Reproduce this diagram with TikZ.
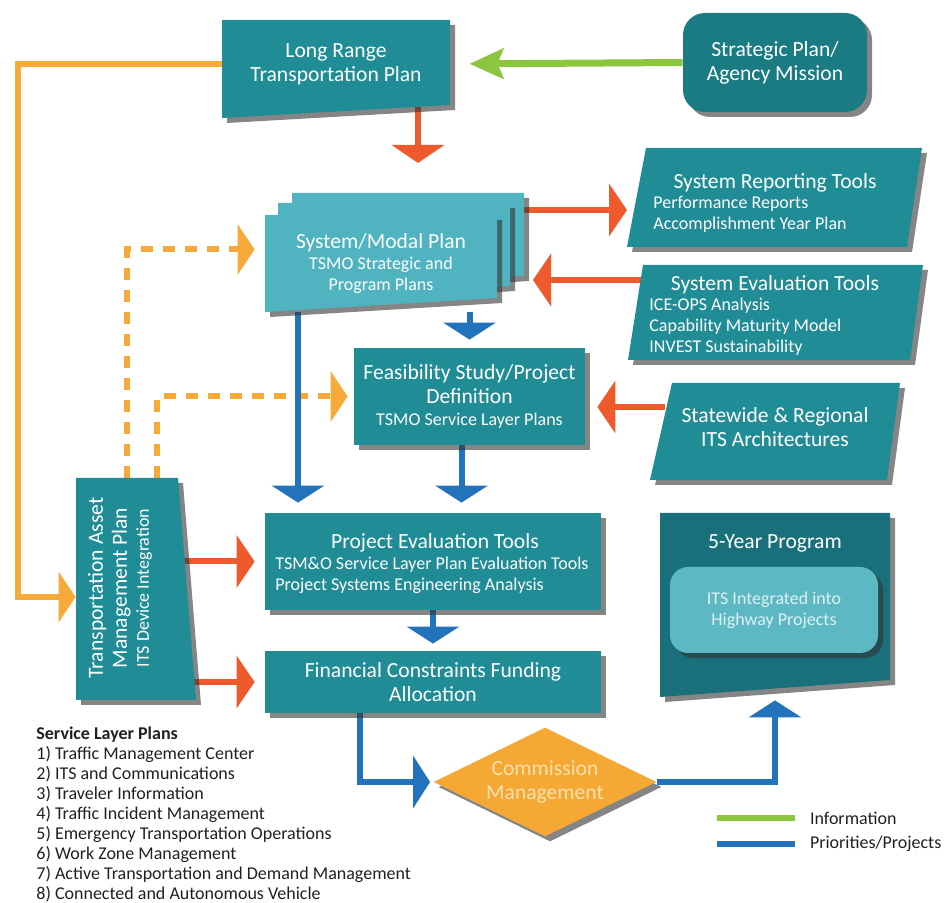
\documentclass[tikz,border=0pt]{standalone}
\usepackage{fontspec}
\setmainfont{Carlito}
\usepackage{xcolor}
\usetikzlibrary{arrows.meta,positioning,shapes.geometric,shadows,backgrounds}

\definecolor{tealmain}{HTML}{1F8C96}
\definecolor{tealmid}{HTML}{1B7B83}
\definecolor{tealdeep}{HTML}{19707A}
\definecolor{tealpage}{HTML}{4FB4BF}
\definecolor{tealinner}{HTML}{5CB9C3}
\definecolor{innertext}{HTML}{DDF1F3}
\definecolor{redarr}{HTML}{EE5A2B}
\definecolor{orangearr}{HTML}{F7AA38}
\definecolor{greenarr}{HTML}{8CC540}
\definecolor{bluearr}{HTML}{2272BC}
\definecolor{diamondfill}{HTML}{F5A934}
\definecolor{diamondtext}{HTML}{FCE0AE}
\definecolor{listtext}{HTML}{231F20}

\newcommand{\boxtitlefont}{\fontsize{10.8}{12}\selectfont}
\newcommand{\boxsubfont}{\fontsize{9}{10.5}\selectfont}
\newcommand{\listfont}{\fontsize{9}{10}\selectfont}

\tikzset{
  boxshadow/.style={drop shadow={shadow xshift=2.5pt,shadow yshift=-2.5pt,opacity=0.6,fill=black!80}},
  tealbox/.style={fill=tealmain,boxshadow,inner sep=0pt,text=white,align=center,font=\boxtitlefont},
  boxlabel/.style={text=white,align=center,font=\boxtitlefont,inner sep=0pt},
  sublabel/.style={text=white,align=left,font=\boxsubfont,inner sep=0pt},
  anchorbox/.style={inner sep=0pt},
  redarrow/.style={draw=redarr,line width=3pt,-{Triangle[width=26pt,length=9pt]}},
  prioarrow/.style={draw=bluearr,line width=3pt,-{Triangle[width=26pt,length=8.5pt]}},
  infoarrow/.style={draw=greenarr,line width=3.5pt,-{Stealth[width=15pt,length=17pt,inset=3pt]}},
  assetarrow/.style={draw=orangearr,line width=3pt,-{Triangle[width=25pt,length=8.5pt]}},
  dasharrow/.style={assetarrow,dash pattern=on 6pt off 5pt},
}

\begin{document}
\begin{tikzpicture}[x=0.5pt,y=-0.5pt]
  \useasboundingbox (0,0) rectangle (944,903);

  \path[fill=tealmain,boxshadow] (222,20) -- (450,20) -- (450,105) -- (222,118) -- cycle;
  \node[boxlabel,minimum width=114pt,minimum height=42.5pt] (lrtp) at (336,64) {Long Range\\Transportation Plan};
  \node[tealbox,fill=tealmid,rounded corners=11pt,minimum width=92pt,minimum height=49.5pt] (strat) at (775,62.5) {Strategic Plan/\\Agency Mission};

  \foreach \dx/\dy in {27/-22,13/-12,0/0}
    \path[fill=tealpage,boxshadow,shift={(\dx,\dy)}] (265,215) -- (497,215) -- (497,298) -- (265,312) -- cycle;
  \node[boxlabel,minimum width=116pt,minimum height=48.5pt] (modal) at (381,263.5) {System/Modal Plan\\[-1.5pt]{\boxsubfont TSMO Strategic and}\\[-1.5pt]{\boxsubfont Program Plans}};
  \coordinate (modaltop) at (418,163);
  \coordinate (modalin) at (533,280);

  \path[fill=tealmain,boxshadow] (646,148) -- (922,148) -- (907,247) -- (627,247) -- cycle;
  \node[boxlabel] (reptitle) at (775,183) {System Reporting Tools};
  \node[sublabel,anchor=west] (repsub) at (653,214) {Performance Reports\\Accomplishment Year Plan};
  \coordinate (repin) at (627,210);

  \path[fill=tealmain,boxshadow] (643,265) -- (923,265) -- (910,360) -- (628,360) -- cycle;
  \node[boxlabel] (evaltitle) at (775,285) {System Evaluation Tools};
  \node[sublabel,anchor=west] (evalsub) at (649,327) {ICE-OPS Analysis\\Capability Maturity Model\\INVEST Sustainability};
  \coordinate (evalout) at (641,280);

  \path[fill=tealmain,boxshadow] (672,383) -- (900,383) -- (887,480) -- (650,480) -- cycle;
  \node[boxlabel] (arch) at (775,427) {Statewide \& Regional\\ITS Architectures};
  \coordinate (archout) at (665,407);

  \node[tealbox,minimum width=115.5pt,minimum height=48.5pt] (feas) at (469.5,396.5) {Feasibility Study/Project\\Definition\\[-1pt]{\boxsubfont TSMO Service Layer Plans}};

  \node[tealbox,minimum width=168pt,minimum height=48.5pt] (projeval) at (433,561.5) {};
  \node[boxlabel] (projtitle) at (435,543) {Project Evaluation Tools};
  \node[sublabel,anchor=west] (projsub) at (275,575) {TSM\&O Service Layer Plan Evaluation Tools\\Project Systems Engineering Analysis};

  \node[tealbox,minimum width=168pt,minimum height=31pt] (fin) at (433,682) {Financial Constraints Funding\\Allocation};

  \path[fill=tealmain,boxshadow] (76,478) -- (178,478) -- (196,700) -- (76,700) -- cycle;
  \node[anchorbox,minimum width=51pt,minimum height=111pt] (tamp) at (127,589) {};
  \node[boxlabel,rotate=90] (tamptext) at (120,588) {Transportation Asset\\Management Plan\\[-1pt]{\boxsubfont ITS Device Integration}};

  \path[fill=tealdeep,boxshadow] (660,513) -- (890,513) -- (890,680) -- (660,697) -- cycle;
  \node[anchorbox,minimum width=115pt,minimum height=88pt] (five) at (775,601) {};
  \node[boxlabel] (fivetitle) at (775,543) {5-Year Program};
  \node[fill=tealinner,rounded corners=9pt,boxshadow,minimum width=104pt,minimum height=43pt,
        text=innertext,align=center,font=\boxsubfont] (itsproj) at (774,610) {ITS Integrated into\\Highway Projects};

  \node[diamond,aspect=2,fill=diamondfill,boxshadow,minimum width=111.5pt,minimum height=54.5pt,inner sep=0pt,
        text=diamondtext,align=center,font=\boxtitlefont] (cm) at (545,782) {Commission\\Management};

  \node[anchor=west,align=left,inner sep=0pt,font=\listfont,text=listtext] (slplist) at (36,814)
    {\textbf{Service Layer Plans}\\1) Traffic Management Center\\2) ITS and Communications\\3) Traveler Information\\
     4) Traffic Incident Management\\5) Emergency Transportation Operations\\6) Work Zone Management\\
     7) Active Transportation and Demand Management\\8) Connected and Autonomous Vehicle};

  \coordinate (leginfo) at (717,818);
  \coordinate (legprio) at (717,844);
  \draw[draw=greenarr,line width=3pt] (leginfo) -- ++(78,0)
    node[right=6pt,inner sep=0pt,font=\listfont,text=listtext] (infotext) {Information};
  \draw[draw=bluearr,line width=3pt] (legprio) -- ++(78,0)
    node[right=6pt,inner sep=0pt,font=\listfont,text=listtext] (priotext) {Priorities/Projects};

  \begin{scope}[on background layer]
    \draw[infoarrow,shorten >=9.5pt] (strat.west) -- (lrtp.east);
    \draw[assetarrow] (lrtp.west) -- ++(-204,0) |- ([yshift=-4pt]tamp.west);
    \draw[redarrow] (lrtp.south -| modaltop) -- (modaltop);
    \draw[redarrow] (modal.east |- repin) -- (repin);
    \draw[redarrow] (evalout) -- (modalin);
    \draw[redarrow,shorten >=6pt] (archout) -- (archout -| feas.east);
    \draw[redarrow,shorten >=5pt] (tamp.east |- projeval.west) -- (projeval.west);
    \draw[redarrow,shorten >=5pt] (tamp.east |- fin.west) -- (fin.west);
    \draw[dasharrow,shorten >=5pt] (tamp.north) |- ([yshift=7pt]modal.west);
    \draw[dasharrow,shorten >=3pt] ([xshift=15pt]tamp.north) |- (feas.west);
    \draw[prioarrow,shorten >=5pt] ([xshift=-41.5pt]modal.south) -- ([xshift=-41.5pt]modal.south |- projeval.north);
    \draw[prioarrow,shorten >=4pt] (feas.north |- modal.south) -- (feas.north);
    \draw[prioarrow,shorten >=5pt] ([xshift=-4pt]feas.south) -- ([xshift=-4pt]feas.south |- projeval.north);
    \draw[prioarrow,shorten >=3.5pt] (projeval.south) -- (fin.north);
    \draw[prioarrow,shorten >=1.5pt] ([xshift=-36.5pt]fin.south) |- (cm.west);
    \draw[prioarrow,shorten >=5.5pt] (cm.east) -| (five.south);
  \end{scope}
\end{tikzpicture}
\end{document}
